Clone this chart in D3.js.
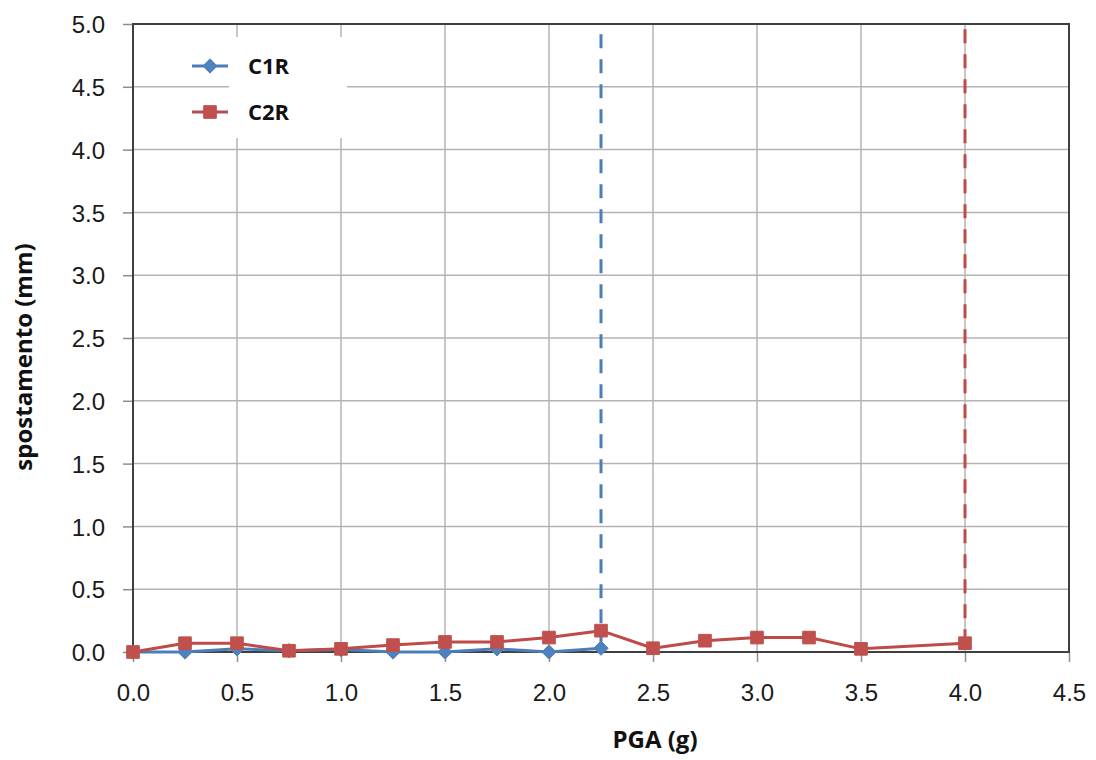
<!DOCTYPE html>
<html>
<head>
<meta charset="utf-8">
<script src="https://cdn.jsdelivr.net/npm/d3@7"></script>
<style>
  html, body { margin: 0; padding: 0; background: #fff; }
  svg { display: block; font-family: "Open Sans", "Noto Sans", sans-serif; }
</style>
</head>
<body>
<svg id="chart" width="1096" height="760"></svg>
<script>
// PGA steps (g)
const pgaC1R = [0.0, 0.25, 0.5, 0.75, 1.0, 1.25, 1.5, 1.75, 2.0, 2.25];
const pgaC2R = [0.0, 0.25, 0.5, 0.75, 1.0, 1.25, 1.5, 1.75, 2.0, 2.25, 2.5, 2.75, 3.0, 3.25, 3.5, 4.0];
// displacement (mm)
const dispC1R = [0.0, 0.0, 0.025, 0.01, 0.02, 0.0, 0.0, 0.025, 0.0, 0.03];
const dispC2R = [0.0, 0.07, 0.07, 0.01, 0.025, 0.055, 0.08, 0.08, 0.115, 0.17, 0.03, 0.09, 0.115, 0.115, 0.025, 0.07];
// collapse PGA of each specimen (dashed markers)
const collapsePGA = [2.25, 4.0];
const collapseDisp = [0.03, 0.07];
const seriesNames = ["C1R", "C2R"];
const xTicks = [0, 0.5, 1, 1.5, 2, 2.5, 3, 3.5, 4, 4.5];
const yTicks = [0, 0.5, 1, 1.5, 2, 2.5, 3, 3.5, 4, 4.5, 5];

const colors = { line: ["#4a7ebb", "#be4b48"], fill: ["#4f81bd", "#c0504d"] };

const svg = d3.select("#chart");
const plot = { left: 133, right: 1069, top: 24, bottom: 652 };

const x = d3.scaleLinear().domain([0, 4.5]).range([plot.left, plot.right]);
const y = d3.scaleLinear().domain([0, 5]).range([plot.bottom, plot.top]);

// grid
const grid = svg.append("g").attr("stroke", "#b4b4b4").attr("stroke-width", 1.5);
grid.selectAll("line.gx").data(xTicks.filter(d => d > 0 && d < 4.5)).join("line")
  .attr("x1", d => x(d)).attr("x2", d => x(d))
  .attr("y1", plot.top).attr("y2", plot.bottom);
grid.selectAll("line.gy").data(yTicks.filter(d => d > 0 && d < 5)).join("line")
  .attr("x1", plot.left).attr("x2", plot.right)
  .attr("y1", d => y(d)).attr("y2", d => y(d));

// axes
const xAxis = svg.append("g").attr("transform", `translate(0,${plot.bottom})`)
  .call(d3.axisBottom(x).tickValues(xTicks).tickFormat(d3.format(".1f")).tickSize(10).tickSizeOuter(0));
const yAxis = svg.append("g").attr("transform", `translate(${plot.left},0)`)
  .call(d3.axisLeft(y).tickValues(yTicks).tickFormat(d3.format(".1f")).tickSize(10).tickSizeOuter(0));
[xAxis, yAxis].forEach(a => {
  a.select(".domain").remove();
  a.selectAll(".tick line").attr("stroke", "#8c8c8c").attr("stroke-width", 1.5);
  a.selectAll(".tick text").attr("fill", "#1a1a1a").style("font-size", "24px");
});
xAxis.selectAll(".tick text").attr("y", 0).attr("dy", 0)
  .attr("transform", "translate(0,49)");
yAxis.selectAll(".tick text").attr("x", -28).attr("dy", "0.36em");

// frame
svg.append("rect")
  .attr("x", plot.left).attr("y", plot.top)
  .attr("width", plot.right - plot.left).attr("height", plot.bottom - plot.top)
  .attr("fill", "none").attr("stroke", "#3f3f3f").attr("stroke-width", 2);

// series
const diamond = d3.symbol().type(d3.symbolDiamond2).size(130);
const square = d3.symbol().type(d3.symbolSquare).size(160);
const series = [
  { pga: pgaC1R, disp: dispC1R, sym: diamond },
  { pga: pgaC2R, disp: dispC2R, sym: square }
];
const line = d3.line().x(d => x(d[0])).y(d => y(d[1]));

series.forEach((s, i) => {
  // collapse marker: dashed vertical
  svg.append("line")
    .attr("x1", x(collapsePGA[i])).attr("x2", x(collapsePGA[i]))
    .attr("y1", y(collapseDisp[i])).attr("y2", y(5))
    .attr("stroke", colors.line[i]).attr("stroke-width", 3)
    .attr("stroke-dasharray", "14,11");
});

series.forEach((s, i) => {
  const pts = s.pga.map((p, k) => [p, s.disp[k]]);
  svg.append("path").datum(pts)
    .attr("d", line).attr("fill", "none")
    .attr("stroke", colors.line[i]).attr("stroke-width", 3)
    .attr("stroke-linejoin", "round");
  svg.append("g").selectAll("path").data(pts).join("path")
    .attr("transform", d => `translate(${x(d[0])},${y(d[1])})`)
    .attr("d", s.sym).attr("fill", colors.fill[i]).attr("stroke", colors.fill[i]).attr("stroke-width", 1);
});

// legend
svg.append("rect").attr("x", 229).attr("y", 37).attr("width", 118).attr("height", 101).attr("fill", "#fff");
const legendRows = [66, 112];
seriesNames.forEach((name, i) => {
  const g = svg.append("g").attr("transform", `translate(0,${legendRows[i]})`);
  g.append("line").attr("x1", 192).attr("x2", 228).attr("y1", 0).attr("y2", 0)
    .attr("stroke", colors.line[i]).attr("stroke-width", 3);
  g.append("path").attr("transform", "translate(210,0)").attr("d", series[i].sym)
    .attr("fill", colors.fill[i]).attr("stroke", colors.fill[i]);
  g.append("text").attr("x", 248).attr("y", 0).attr("dy", "0.36em")
    .attr("fill", "#111").style("font-size", "22px").style("font-weight", "bold")
    .text(name);
});

// axis titles
svg.append("text").attr("x", 655).attr("y", 748).attr("text-anchor", "middle")
  .attr("fill", "#111").style("font-size", "24px").style("font-weight", "bold")
  .text("PGA (g)");
svg.append("text").attr("transform", "translate(32,357) rotate(-90)").attr("text-anchor", "middle")
  .attr("fill", "#111").style("font-size", "24px").style("font-weight", "bold")
  .text("spostamento (mm)");
</script>
</body>
</html>
